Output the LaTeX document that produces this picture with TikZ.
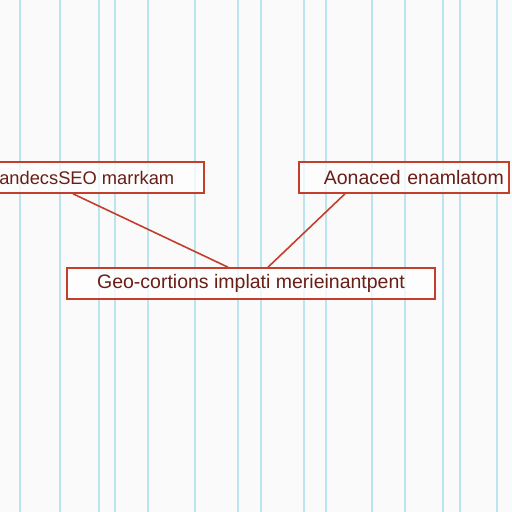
\documentclass[tikz,border=0pt]{standalone}
\usepackage{fontspec}
\setmainfont{Liberation Sans}
\usetikzlibrary{positioning}
\definecolor{gridcyan}{RGB}{188,228,238}
\definecolor{boxred}{RGB}{196,62,44}
\definecolor{textbrown}{RGB}{105,30,22}
\definecolor{paper}{RGB}{250,250,250}

\begin{document}
\begin{tikzpicture}[x=1pt,y=-1pt,
    labelbox/.style={draw=boxred, line width=1.6pt, fill=white, fill opacity=0.75, text opacity=1,
      text=textbrown, font=\fontsize{19.5}{22}\selectfont, minimum height=31pt, inner ysep=0pt},
    link/.style={draw=boxred, line width=1.6pt}]
        \fill[paper] (0,0) rectangle (512,512);
        \useasboundingbox (0,0) rectangle (512,512);
        % lignes du papier
        \foreach \gx in {20,60,99,115,148,195,238,261,304,326,372,405,443,460,497} {
          \draw[gridcyan, line width=1.2pt] (\gx,0) -- (\gx,512);
        }
        % boites
        \node[labelbox, anchor=east, inner xsep=30pt, font=\fontsize{18.3}{22}\selectfont] (seo) at (205,177.5) {andecsSEO marrkam};
        \node[labelbox, anchor=west, text width=200pt, align=right, inner xsep=5pt] (adv) at (298,177.5) {Aonaced enamlatom};
        \node[labelbox, minimum width=368pt] (geo) at (251,283.5) {Geo-cortions implati merieinantpent};
        % liaisons
        \draw[link] ([xshift=-132pt]seo.south east) -- ([xshift=-23pt]geo.north);
        \draw[link] ([xshift=47pt]adv.south west) -- ([xshift=17pt]geo.north);
      \end{tikzpicture}
\end{document}
